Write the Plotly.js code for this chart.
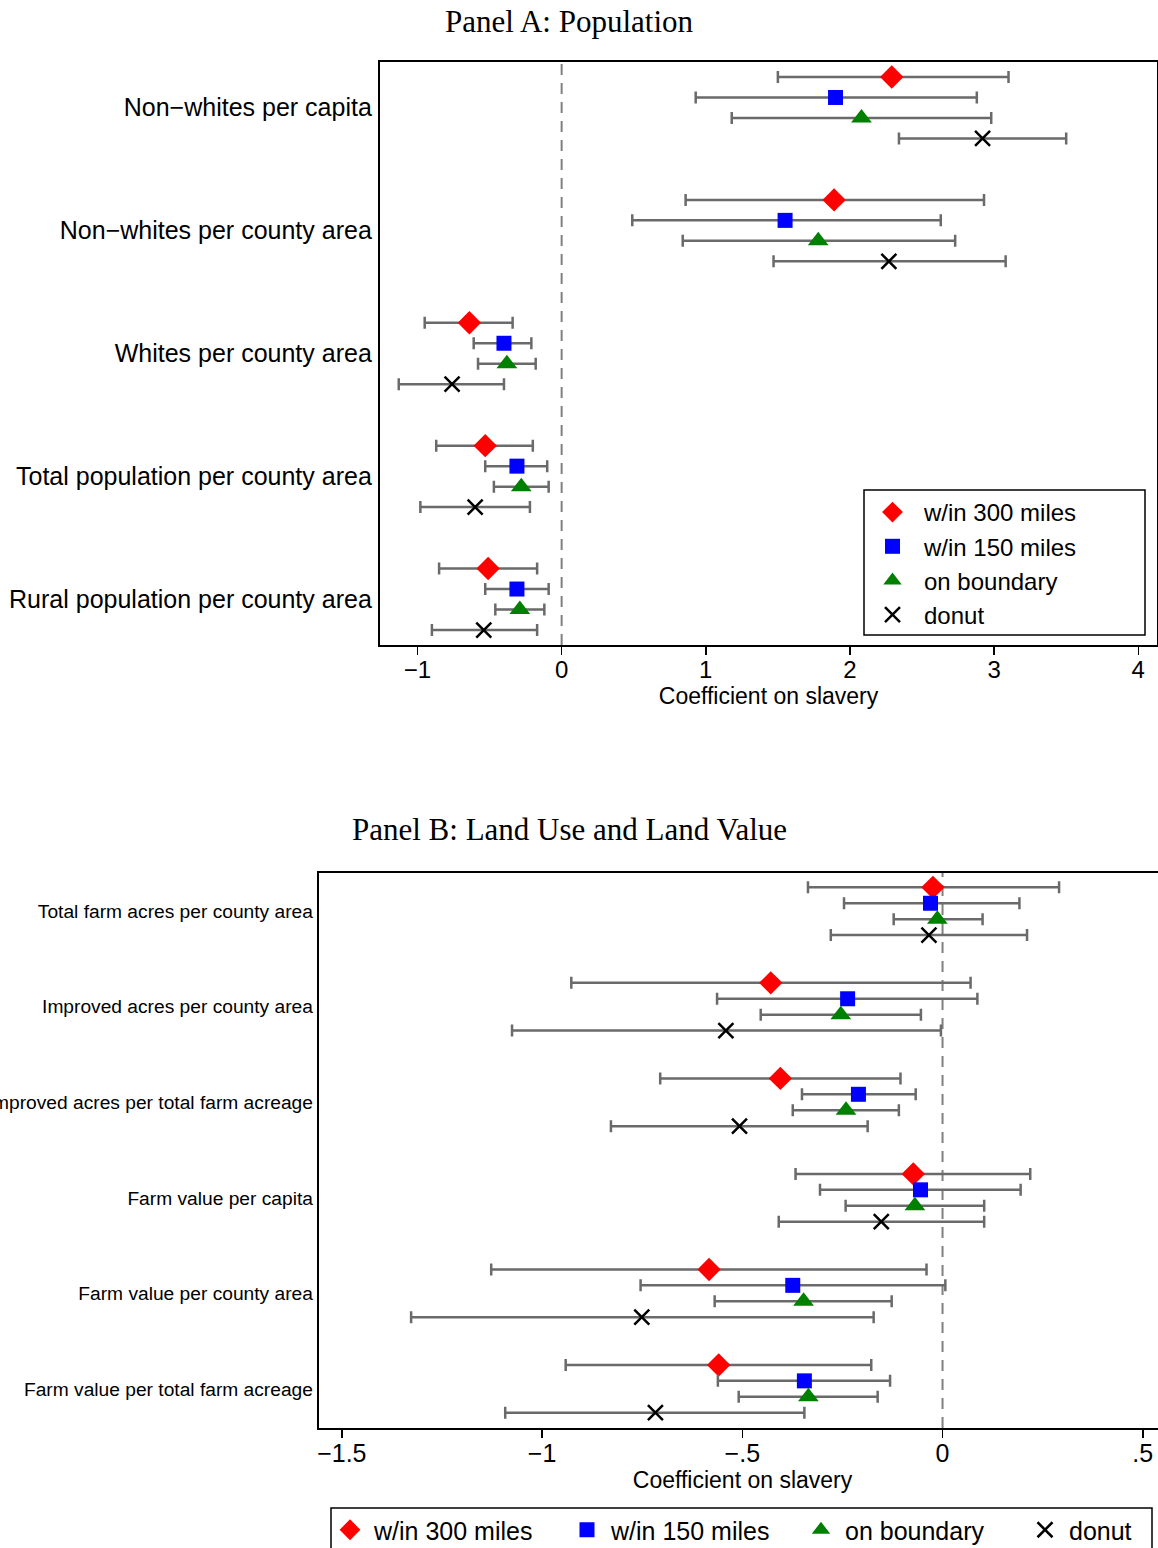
<!DOCTYPE html>
<html>
<head>
<meta charset="utf-8">
<script src="https://cdn.plot.ly/plotly-3.0.1.min.js"></script>
<style>html,body{margin:0;padding:0;overflow:hidden;background:#fff}</style>
</head>
<body>
<div id="chart" style="width:1170px;height:1548px"></div>
<script>
// ---------- DATA ----------
const seriesNames = ["w/in 300 miles", "w/in 150 miles", "on boundary", "donut"];

// Panel A: Population
const catsA = ["Non\u2212whites per capita", "Non\u2212whites per county area", "Whites per county area",
               "Total population per county area", "Rural population per county area"];
const a300   = [2.29, 1.89, -0.64, -0.53, -0.51];
const a300lo = [1.50, 0.86, -0.95, -0.87, -0.85];
const a300hi = [3.10, 2.93, -0.34, -0.20, -0.17];
const a150   = [1.90, 1.55, -0.40, -0.31, -0.31];
const a150lo = [0.93, 0.49, -0.61, -0.53, -0.53];
const a150hi = [2.88, 2.63, -0.21, -0.10, -0.09];
const aBnd   = [2.08, 1.78, -0.38, -0.28, -0.29];
const aBndlo = [1.18, 0.84, -0.58, -0.47, -0.46];
const aBndhi = [2.98, 2.73, -0.18, -0.09, -0.12];
const aDon   = [2.92, 2.27, -0.76, -0.60, -0.54];
const aDonlo = [2.34, 1.47, -1.13, -0.98, -0.90];
const aDonhi = [3.50, 3.08, -0.40, -0.22, -0.17];
const tickValsA = [-1, 0, 1, 2, 3, 4];
const tickTextA = ["\u22121", "0", "1", "2", "3", "4"];

// Panel B: Land Use and Land Value
const catsB = ["Total farm acres per county area", "Improved acres per county area",
               "Improved acres per total farm acreage", "Farm value per capita",
               "Farm value per county area", "Farm value per total farm acreage"];
const b300   = [-0.024, -0.429, -0.405, -0.073, -0.583, -0.559];
const b300lo = [-0.336, -0.927, -0.705, -0.367, -1.127, -0.941];
const b300hi = [ 0.291,  0.070, -0.105,  0.219, -0.040, -0.178];
const b150   = [-0.030, -0.237, -0.210, -0.055, -0.374, -0.345];
const b150lo = [-0.246, -0.563, -0.351, -0.306, -0.754, -0.561];
const b150hi = [ 0.192,  0.087, -0.067,  0.195,  0.007, -0.131];
const bBnd   = [-0.013, -0.254, -0.241, -0.069, -0.347, -0.335];
const bBndlo = [-0.122, -0.454, -0.374, -0.242, -0.569, -0.509];
const bBndhi = [ 0.100, -0.054, -0.109,  0.104, -0.127, -0.162];
const bDon   = [-0.034, -0.541, -0.507, -0.153, -0.751, -0.717];
const bDonlo = [-0.279, -1.075, -0.828, -0.409, -1.327, -1.092];
const bDonhi = [ 0.211, -0.004, -0.187,  0.104, -0.172, -0.345];
const tickValsB = [-1.5, -1, -0.5, 0, 0.5];
const tickTextB = ["\u22121.5", "\u22121", "\u2212.5", "0", ".5"];

// ---------- STYLE ----------
const SANS = "Liberation Sans, Arial, sans-serif";
const SERIF = "Liberation Serif, Times New Roman, serif";
const styles = [
  {symbol: "diamond", color: "#ff0000", size: 18, line: {width: 0}},
  {symbol: "square", color: "#0000ff", size: 15, line: {width: 0}},
  {symbol: "triangle-up", color: "#008000", size: 18, line: {width: 0}},
  {symbol: "x-thin", color: "#000000", size: 15, line: {width: 2.5, color: "#000000"}}
];
const legend2Widths = [184, 181, 171, 70];
const W = 1170, H = 1548;

function makeTrace(cats, est, lo, hi, k, xa, ya, legend, lw) {
  const s = styles[k];
  const t = {
    type: "scatter", mode: "markers",
    name: seriesNames[k],
    x: est,
    y: cats.map((c, i) => i + (k - 1.5) / 6),
    xaxis: xa, yaxis: ya, legend: legend, showlegend: true,
    marker: {symbol: s.symbol, color: s.color, size: s.size, line: s.line},
    error_x: {type: "data", symmetric: false,
              array: hi.map((h, i) => h - est[i]),
              arrayminus: lo.map((l, i) => est[i] - l),
              color: "#6a6a6a", thickness: 2.5, width: 6},
    hoverinfo: "skip"
  };
  if (lw) t.legendwidth = lw;
  return t;
}

const setsA = [[a300, a300lo, a300hi], [a150, a150lo, a150hi], [aBnd, aBndlo, aBndhi], [aDon, aDonlo, aDonhi]];
const setsB = [[b300, b300lo, b300hi], [b150, b150lo, b150hi], [bBnd, bBndlo, bBndhi], [bDon, bDonlo, bDonhi]];
const traces = [];
setsA.forEach((d, k) => traces.push(makeTrace(catsA, d[0], d[1], d[2], k, "x", "y", "legend", null)));
setsB.forEach((d, k) => traces.push(makeTrace(catsB, d[0], d[1], d[2], k, "x2", "y2", "legend2", legend2Widths[k])));

const axisCommon = {showgrid: false, zeroline: false, showline: true, mirror: true,
                    linecolor: "#000", linewidth: 2.2, color: "#000", automargin: false};

const px = v => v / W;          // horizontal pixel -> paper
const py = v => 1 - v / H;      // vertical pixel -> paper

const layout = {
  width: W, height: H,
  margin: {l: 0, r: 0, t: 0, b: 0, autoexpand: false},
  paper_bgcolor: "#fff", plot_bgcolor: "#fff",
  font: {family: SANS, color: "#000"},
  xaxis: Object.assign({}, axisCommon, {
    domain: [px(380), px(1157)], range: [-1.26, 4.13], anchor: "y",
    tickvals: tickValsA, ticktext: tickTextA, ticks: "outside", ticklen: 8, tickwidth: 1.5, tickcolor: "#000",
    ticklabelstandoff: -6,
    tickfont: {size: 24, family: SANS},
    title: {text: "Coefficient on slavery", font: {size: 23, family: SANS}, standoff: 3}
  }),
  yaxis: Object.assign({}, axisCommon, {
    domain: [py(645), py(62)], range: [4.372, -0.372], anchor: "x",
    tickvals: catsA.map((c, i) => i), ticktext: catsA, ticks: "", ticklabelstandoff: 1,
    tickfont: {size: 25, family: SANS}
  }),
  xaxis2: Object.assign({}, axisCommon, {
    domain: [px(319), px(1166)], range: [-1.557, 0.558], anchor: "y2",
    tickvals: tickValsB, ticktext: tickTextB, ticks: "outside", ticklen: 8, tickwidth: 1.5, tickcolor: "#000",
    ticklabelstandoff: -6,
    tickfont: {size: 25, family: SANS},
    title: {text: "Coefficient on slavery", font: {size: 23, family: SANS}, standoff: 6}
  }),
  yaxis2: Object.assign({}, axisCommon, {
    domain: [py(1428), py(873)], range: [5.41, -0.40], anchor: "x2",
    tickvals: catsB.map((c, i) => i), ticktext: catsB, ticks: "", ticklabelstandoff: 0,
    tickfont: {size: 19.2, family: SANS}
  }),
  shapes: [
    {type: "line", xref: "x", yref: "y domain", x0: 0, x1: 0, y0: 0, y1: 1, layer: "below",
     line: {color: "#808080", width: 2, dash: "11px,8px"}},
    {type: "line", xref: "x2", yref: "y2 domain", x0: 0, x1: 0, y0: 0, y1: 1, layer: "below",
     line: {color: "#808080", width: 2, dash: "11px,8px"}},
    // legend frames
    {type: "rect", xref: "paper", yref: "paper", x0: px(864), x1: px(1145), y0: py(635), y1: py(490),
     fillcolor: "#fff", line: {color: "#000", width: 1.5}, layer: "above"},
    {type: "rect", xref: "paper", yref: "paper", x0: px(331), x1: px(1152), y0: py(1560), y1: py(1508),
     fillcolor: "#fff", line: {color: "#000", width: 1.5}, layer: "above"}
  ],
  annotations: [
    {text: "Panel A: Population", xref: "paper", yref: "paper", x: px(569.5), y: py(21),
     xanchor: "center", yanchor: "middle", showarrow: false, font: {family: SERIF, size: 31, color: "#000"}},
    {text: "Panel B: Land Use and Land Value", xref: "paper", yref: "paper", x: px(569), y: py(829),
     xanchor: "center", yanchor: "middle", showarrow: false, font: {family: SERIF, size: 31, color: "#000"}}
  ],
  legend: {x: px(861), y: py(490), xanchor: "left", yanchor: "top",
           borderwidth: 0, bgcolor: "rgba(0,0,0,0)", itemwidth: 53,
           font: {size: 24, family: SANS}, tracegroupgap: 0},
  legend2: {orientation: "h", x: px(326), y: py(1507), xanchor: "left", yanchor: "top",
            borderwidth: 0, bgcolor: "rgba(0,0,0,0)", itemwidth: 38,
            font: {size: 25, family: SANS}}
};

Plotly.newPlot("chart", traces, layout, {staticPlot: true, displayModeBar: false});
</script>
</body>
</html>
